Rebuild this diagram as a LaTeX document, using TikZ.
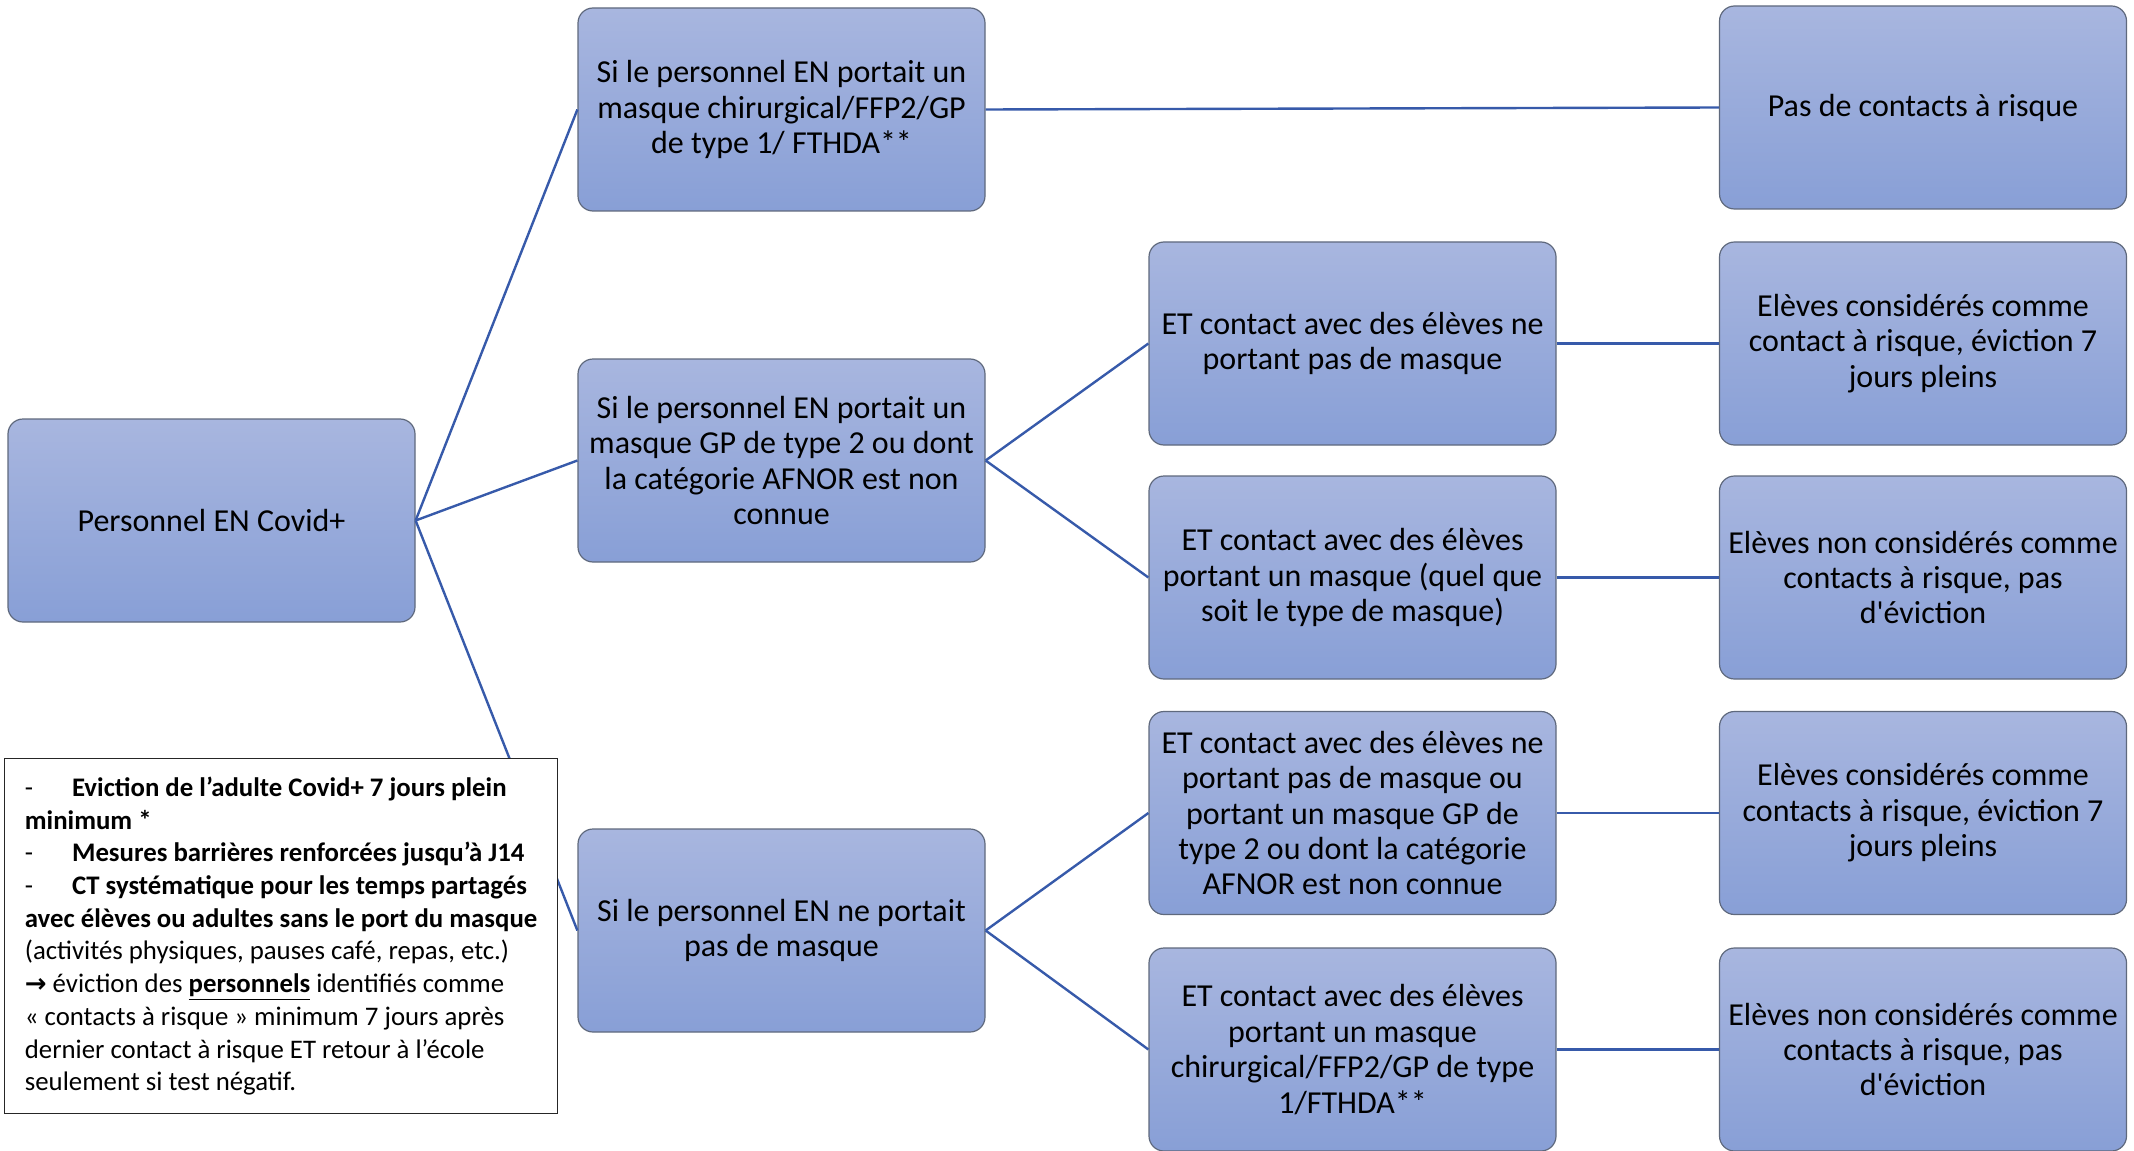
\documentclass[tikz,border=0pt]{standalone}
\usepackage{fontspec}
\setmainfont{Carlito}[Ligatures=TeXOff]
\newfontfamily\symfont{DejaVu Sans}
\definecolor{boxtop}{RGB}{168,182,223}
\definecolor{boxbot}{RGB}{136,159,214}
\definecolor{boxline}{RGB}{95,105,125}
\definecolor{linkblue}{RGB}{55,90,170}
\tikzset{
  box/.style={rectangle, rounded corners=7.5pt, draw=boxline, line width=0.6pt,
    top color=boxtop, bottom color=boxbot, minimum width=203.5pt, minimum height=101.5pt,
    align=center, inner sep=0pt, font=\fontsize{16}{17.7}\selectfont},
  link/.style={draw=linkblue, line width=1.2pt},
  note/.style={rectangle, draw=black!85, line width=0.6pt, fill=white, anchor=north west,
    minimum width=276.5pt, minimum height=177.5pt, align=left, inner sep=0pt,
    font=\fontsize{13.4}{16.35}\selectfont}
}
\begin{document}
\begin{tikzpicture}[x=0.5pt,y=-0.5pt]
\useasboundingbox (0,0) rectangle (2134,1150);
\node[box] (root) at (211.5,520.5) {Personnel EN Covid+};
\node[box] (A) at (781.5,109.5) {Si le personnel EN portait un\\masque chirurgical/FFP2/GP\\de type 1/ FTHDA**};
\node[box] (B) at (781.5,460.5) {Si le personnel EN portait un\\masque GP de type 2 ou dont\\la catégorie AFNOR est non\\connue};
\node[box] (C) at (781.5,930.5) {Si le personnel EN ne portait\\pas de masque};
\node[box] (D1) at (1352.5,343.5) {ET contact avec des élèves ne\\portant pas de masque};
\node[box] (D2) at (1352.5,577.5) {ET contact avec des élèves\\portant un masque (quel que\\soit le type de masque)};
\node[box] (D3) at (1352.5,813) {ET contact avec des élèves ne\\portant pas de masque ou\\portant un masque GP de\\type 2 ou dont la catégorie\\AFNOR est non connue};
\node[box] (D4) at (1352.5,1049.5) {ET contact avec des élèves\\portant un masque\\chirurgical/FFP2/GP de type\\1/FTHDA**};
\node[box] (E0) at (1923,107.5) {Pas de contacts à risque};
\node[box] (E1) at (1923,343.5) {Elèves considérés comme\\contact à risque, éviction 7\\jours pleins};
\node[box] (E2) at (1923,577.5) {Elèves non considérés comme\\contacts à risque, pas\\d'éviction};
\node[box] (E3) at (1923,813) {Elèves considérés comme\\contacts à risque, éviction 7\\jours pleins};
\node[box] (E4) at (1923,1049.5) {Elèves non considérés comme\\contacts à risque, pas\\d'éviction};
\draw[link] (root.east) -- (A.west);
\draw[link] (root.east) -- (B.west);
\draw[link] (root.east) -- (C.west);
\draw[link] (A.east) -- (E0.west);
\draw[link] (B.east) -- (D1.west);
\draw[link] (B.east) -- (D2.west);
\draw[link] (C.east) -- (D3.west);
\draw[link] (C.east) -- (D4.west);
\draw[link] (D1.east) -- (E1.west);
\draw[link] (D2.east) -- (E2.west);
\draw[link] (D3.east) -- (E3.west);
\draw[link] (D4.east) -- (E4.west);
\node[note] (note) at (4,758) {%
-\hspace{19.5pt}\textbf{Eviction de l’adulte Covid+ 7 jours plein}\\
\textbf{minimum *}\\
-\hspace{19.5pt}\textbf{Mesures barrières renforcées jusqu’à J14}\\
-\hspace{19.5pt}\textbf{CT systématique pour les temps partagés}\\
\textbf{avec élèves ou adultes sans le port du masque}\\
(activités physiques, pauses café, repas, etc.)\\
{\symfont\bfseries\fontsize{13}{16.35}\selectfont →} éviction des \underline{\textbf{personnels}} identifiés comme\\
« contacts à risque » minimum 7 jours après\\
dernier contact à risque ET retour à l’école\\
seulement si test négatif.};
\end{tikzpicture}
\end{document}
